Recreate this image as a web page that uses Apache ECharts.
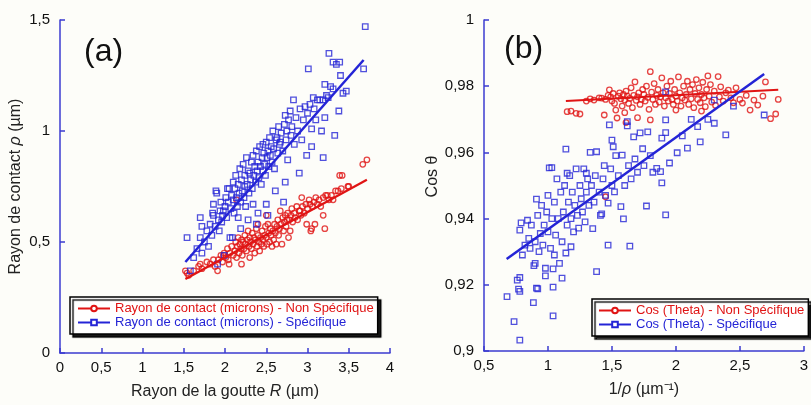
<!DOCTYPE html>
<html><head><meta charset="utf-8">
<script src="https://cdn.jsdelivr.net/npm/echarts@6/dist/echarts.min.js"></script>
<style>html,body{margin:0;padding:0;background:#fdfdf9}#c{width:811px;height:405px}</style>
</head><body><div id="c"></div>
<script>
// ---------- Panel (a) data ----------
const aXTicks = [0,0.5,1,1.5,2,2.5,3,3.5,4];
const aYTicks = [0,0.5,1,1.5];
const aRedName = 'Rayon de contact (microns) - Non Spécifique';
const aBlueName = 'Rayon de contact (microns) - Spécifique';
const aRedPts = [[1.52,0.37],[1.54,0.36],[1.56,0.35],[1.62,0.37],[1.68,0.39],[1.70,0.40],[1.72,0.38],[1.78,0.41],[1.82,0.40],[1.86,0.42],[1.88,0.39],[1.91,0.37],[1.92,0.42],[1.95,0.44],[1.97,0.41],[1.98,0.44],[1.99,0.45],[2.01,0.43],[2.03,0.47],[2.04,0.42],[2.05,0.40],[2.06,0.45],[2.08,0.48],[2.10,0.44],[2.12,0.46],[2.13,0.50],[2.14,0.43],[2.14,0.69],[2.15,0.48],[2.16,0.52],[2.17,0.45],[2.18,0.49],[2.19,0.47],[2.20,0.51],[2.20,0.40],[2.21,0.44],[2.22,0.50],[2.23,0.47],[2.24,0.53],[2.25,0.49],[2.26,0.46],[2.27,0.51],[2.28,0.55],[2.29,0.48],[2.30,0.52],[2.30,0.43],[2.31,0.50],[2.32,0.47],[2.33,0.54],[2.34,0.49],[2.35,0.52],[2.36,0.45],[2.37,0.51],[2.38,0.56],[2.39,0.48],[2.40,0.53],[2.40,0.58],[2.41,0.50],[2.42,0.46],[2.43,0.52],[2.44,0.49],[2.45,0.55],[2.46,0.51],[2.47,0.48],[2.48,0.53],[2.49,0.57],[2.50,0.52],[2.50,0.62],[2.51,0.49],[2.52,0.58],[2.53,0.54],[2.54,0.50],[2.55,0.56],[2.56,0.53],[2.57,0.48],[2.58,0.55],[2.59,0.51],[2.60,0.58],[2.61,0.54],[2.62,0.49],[2.63,0.57],[2.64,0.60],[2.65,0.53],[2.66,0.56],[2.67,0.64],[2.68,0.58],[2.69,0.49],[2.70,0.61],[2.71,0.55],[2.72,0.59],[2.73,0.62],[2.74,0.57],[2.75,0.60],[2.76,0.63],[2.77,0.52],[2.78,0.60],[2.79,0.55],[2.80,0.62],[2.81,0.65],[2.82,0.59],[2.84,0.63],[2.85,0.61],[2.87,0.66],[2.88,0.60],[2.90,0.64],[2.91,0.64],[2.92,0.62],[2.93,0.70],[2.94,0.66],[2.96,0.63],[2.98,0.67],[2.99,0.58],[3.00,0.65],[3.02,0.69],[3.03,0.67],[3.04,0.55],[3.05,0.56],[3.06,0.66],[3.08,0.68],[3.09,0.58],[3.10,0.70],[3.12,0.67],[3.14,0.69],[3.16,0.66],[3.19,0.62],[3.19,0.70],[3.21,0.56],[3.22,0.71],[3.24,0.71],[3.26,0.69],[3.29,0.71],[3.31,0.69],[3.34,0.73],[3.37,0.73],[3.39,0.80],[3.41,0.74],[3.42,0.80],[3.49,0.75],[3.50,0.75],[3.67,0.85],[3.72,0.87]];
const aBluePts = [[1.54,0.52],[1.58,0.37],[1.62,0.43],[1.66,0.47],[1.70,0.61],[1.70,0.52],[1.72,0.57],[1.72,0.45],[1.75,0.50],[1.78,0.55],[1.80,0.48],[1.82,0.58],[1.84,0.53],[1.85,0.63],[1.86,0.62],[1.86,0.67],[1.88,0.57],[1.89,0.73],[1.90,0.72],[1.91,0.40],[1.92,0.60],[1.93,0.55],[1.94,0.64],[1.95,0.68],[1.96,0.59],[1.97,0.62],[1.98,0.64],[1.99,0.44],[2.00,0.66],[2.01,0.70],[2.02,0.61],[2.03,0.74],[2.04,0.68],[2.05,0.74],[2.06,0.52],[2.07,0.65],[2.08,0.71],[2.09,0.52],[2.10,0.69],[2.10,0.77],[2.11,0.63],[2.12,0.74],[2.13,0.80],[2.14,0.70],[2.15,0.66],[2.16,0.61],[2.16,0.76],[2.17,0.72],[2.18,0.83],[2.19,0.56],[2.19,0.68],[2.20,0.78],[2.21,0.73],[2.22,0.85],[2.23,0.70],[2.24,0.75],[2.24,0.80],[2.25,0.66],[2.26,0.88],[2.27,0.76],[2.28,0.60],[2.28,0.82],[2.29,0.72],[2.30,0.81],[2.31,0.78],[2.32,0.86],[2.33,0.74],[2.34,0.89],[2.34,0.67],[2.35,0.80],[2.36,0.84],[2.37,0.77],[2.38,0.58],[2.38,0.91],[2.39,0.82],[2.40,0.63],[2.40,0.86],[2.41,0.79],[2.42,0.93],[2.43,0.84],[2.44,0.76],[2.45,0.88],[2.46,0.82],[2.46,0.94],[2.47,0.90],[2.48,0.85],[2.49,0.80],[2.50,0.67],[2.50,0.95],[2.51,0.88],[2.52,0.62],[2.52,0.91],[2.53,0.84],[2.54,0.97],[2.55,0.89],[2.56,0.93],[2.57,0.86],[2.58,1.00],[2.59,0.92],[2.60,0.83],[2.61,0.73],[2.62,0.96],[2.63,0.97],[2.64,0.90],[2.65,1.02],[2.66,0.94],[2.67,0.95],[2.68,0.99],[2.70,0.91],[2.71,0.68],[2.72,1.03],[2.73,0.77],[2.73,1.07],[2.74,0.96],[2.75,1.00],[2.76,0.87],[2.77,1.05],[2.79,1.09],[2.80,0.98],[2.81,1.02],[2.83,1.14],[2.84,0.94],[2.86,1.06],[2.88,1.00],[2.90,0.81],[2.91,1.10],[2.93,0.96],[2.95,1.05],[2.97,1.11],[2.99,0.89],[3.00,1.08],[3.01,1.28],[3.03,1.12],[3.05,1.01],[3.05,0.93],[3.07,1.15],[3.08,1.10],[3.10,1.05],[3.12,1.14],[3.15,1.14],[3.17,1.00],[3.19,1.14],[3.19,0.88],[3.21,1.06],[3.21,1.21],[3.23,1.16],[3.25,1.15],[3.26,1.35],[3.28,1.20],[3.31,1.31],[3.31,1.19],[3.33,0.98],[3.35,1.30],[3.38,1.09],[3.39,1.31],[3.40,1.25],[3.43,1.17],[3.47,1.18],[3.68,1.28],[3.70,1.47]];
const aRedFit = [[1.52,0.333],[3.72,0.78]];
const aBlueFit = [[1.52,0.41],[3.68,1.32]];

// ---------- Panel (b) data ----------
const bXTicks = [0.5,1,1.5,2,2.5,3];
const bYTicks = [0.9,0.92,0.94,0.96,0.98,1];
const bRedName = 'Cos (Theta) - Non Spécifique';
const bBlueName = 'Cos (Theta) - Spécifique';
const bRedPts = [[1.15,0.9723],[1.18,0.9725],[1.22,0.9718],[1.25,0.9716],[1.30,0.9755],[1.33,0.9762],[1.36,0.9758],[1.40,0.9765],[1.42,0.9764],[1.44,0.9713],[1.45,0.9760],[1.47,0.9772],[1.48,0.9789],[1.49,0.9768],[1.50,0.9755],[1.51,0.9778],[1.52,0.9748],[1.53,0.9728],[1.54,0.9704],[1.55,0.9770],[1.56,0.9780],[1.57,0.9762],[1.58,0.9740],[1.59,0.9775],[1.60,0.9758],[1.60,0.9720],[1.61,0.9785],[1.61,0.9690],[1.62,0.9770],[1.63,0.9748],[1.64,0.9763],[1.65,0.9795],[1.66,0.9735],[1.67,0.9772],[1.68,0.9813],[1.69,0.9757],[1.70,0.9768],[1.70,0.9705],[1.71,0.9780],[1.72,0.9745],[1.73,0.9760],[1.74,0.9790],[1.75,0.9775],[1.76,0.9755],[1.77,0.9800],[1.78,0.9766],[1.79,0.9730],[1.80,0.9844],[1.80,0.9698],[1.81,0.9782],[1.82,0.9760],[1.83,0.9808],[1.84,0.9745],[1.85,0.9772],[1.86,0.9790],[1.87,0.9752],[1.88,0.9768],[1.89,0.9825],[1.90,0.9780],[1.91,0.9740],[1.92,0.9765],[1.93,0.9800],[1.94,0.9755],[1.95,0.9778],[1.96,0.9815],[1.97,0.9760],[1.98,0.9745],[1.99,0.9790],[2.00,0.9770],[2.00,0.9728],[2.01,0.9755],[2.02,0.9828],[2.03,0.9780],[2.04,0.9740],[2.05,0.9765],[2.06,0.9800],[2.07,0.9758],[2.08,0.9775],[2.09,0.9815],[2.10,0.9745],[2.11,0.9790],[2.12,0.9762],[2.13,0.9805],[2.14,0.9735],[2.15,0.9778],[2.16,0.9820],[2.17,0.9760],[2.18,0.9795],[2.19,0.9750],[2.20,0.9775],[2.20,0.9725],[2.21,0.9812],[2.22,0.9765],[2.23,0.9738],[2.24,0.9790],[2.25,0.9831],[2.26,0.9770],[2.27,0.9805],[2.28,0.9752],[2.30,0.9785],[2.31,0.9742],[2.33,0.9829],[2.34,0.9768],[2.35,0.9798],[2.37,0.9755],[2.39,0.9780],[2.41,0.9788],[2.43,0.9765],[2.45,0.9750],[2.47,0.9795],[2.50,0.9760],[2.52,0.9749],[2.55,0.9772],[2.58,0.9728],[2.61,0.9758],[2.64,0.9743],[2.68,0.9770],[2.70,0.9813],[2.74,0.9702],[2.78,0.9716],[2.80,0.9760],[1.45,0.9466]];
const bBluePts = [[0.68,0.9164],[0.735,0.9089],[0.78,0.9033],[0.76,0.9214],[0.77,0.9187],[0.78,0.9180],[0.78,0.9222],[0.78,0.9365],[0.80,0.9290],[0.79,0.9387],[0.82,0.9320],[0.84,0.9395],[0.85,0.9340],[0.86,0.9310],[0.87,0.9380],[0.886,0.9146],[0.89,0.9258],[0.90,0.9265],[0.90,0.9330],[0.91,0.9190],[0.91,0.9459],[0.92,0.9188],[0.92,0.9410],[0.93,0.9300],[0.94,0.9355],[0.95,0.9440],[0.96,0.9320],[0.97,0.9380],[0.98,0.9227],[0.98,0.9250],[0.99,0.9420],[1.00,0.9360],[1.00,0.9470],[1.01,0.9553],[1.02,0.9310],[1.03,0.9400],[1.03,0.9554],[1.04,0.9248],[1.04,0.9193],[1.04,0.9106],[1.05,0.9290],[1.05,0.9450],[1.06,0.9350],[1.07,0.9520],[1.08,0.9400],[1.09,0.9265],[1.10,0.9480],[1.11,0.9220],[1.11,0.9330],[1.12,0.9420],[1.13,0.9500],[1.14,0.9610],[1.14,0.9296],[1.15,0.9380],[1.15,0.9537],[1.16,0.9450],[1.17,0.9530],[1.18,0.9315],[1.18,0.9400],[1.19,0.9480],[1.20,0.9360],[1.21,0.9440],[1.22,0.9550],[1.23,0.9410],[1.24,0.9371],[1.25,0.9500],[1.26,0.9460],[1.27,0.9420],[1.28,0.9550],[1.29,0.9390],[1.30,0.9480],[1.30,0.9537],[1.31,0.9520],[1.32,0.9440],[1.33,0.9600],[1.34,0.9500],[1.35,0.9370],[1.36,0.9450],[1.37,0.9530],[1.38,0.9240],[1.38,0.9602],[1.40,0.9480],[1.41,0.9410],[1.42,0.9414],[1.43,0.9520],[1.44,0.9560],[1.45,0.9470],[1.47,0.9320],[1.47,0.9447],[1.48,0.9683],[1.49,0.9550],[1.50,0.9500],[1.50,0.9637],[1.51,0.9617],[1.52,0.9481],[1.53,0.9590],[1.55,0.9530],[1.57,0.9436],[1.58,0.9592],[1.59,0.9399],[1.60,0.9500],[1.62,0.9693],[1.62,0.9680],[1.63,0.9560],[1.64,0.9317],[1.65,0.9520],[1.67,0.9647],[1.68,0.9580],[1.70,0.9540],[1.72,0.9659],[1.74,0.9611],[1.75,0.9560],[1.77,0.9438],[1.78,0.9662],[1.80,0.9590],[1.82,0.9540],[1.85,0.9552],[1.88,0.9542],[1.89,0.9643],[1.89,0.9508],[1.92,0.9698],[1.92,0.9783],[1.92,0.9660],[1.92,0.9411],[1.95,0.9568],[2.01,0.9599],[2.05,0.9650],[2.09,0.9613],[2.12,0.9700],[2.17,0.9678],[2.19,0.9632],[2.25,0.9700],[2.30,0.9688],[2.30,0.9758],[2.39,0.9653],[2.45,0.9740],[2.69,0.9713]];
const bRedFit = [[1.14,0.9755],[2.80,0.9789]];
const bBlueFit = [[0.677,0.9278],[2.69,0.9837]];

const RED = '#e01414';
const BLUE = '#2424d6';
const AXIS = '#3b3bd0';
const FONT = 'Liberation Sans';

function fmt(v){ return String(Math.round(v*1000)/1000).replace('.', ','); }

function axisCommon(){
  return {
    axisLine:{show:true, lineStyle:{color:AXIS, width:1.5}},
    axisTick:{show:true, inside:true, length:5, lineStyle:{color:AXIS, width:1.5}},
    splitLine:{show:false},
    axisLabel:{color:'#111', fontSize:15, fontFamily:FONT, formatter:fmt},
    nameTextStyle:{color:'#222', fontSize:15, fontFamily:FONT}
  };
}
const nameStyle = {color:'#222', fontSize:16, fontFamily:FONT, rich:{i:{fontStyle:'italic', fontSize:16, fontFamily:FONT, color:'#222'}}};

const chart = echarts.init(document.getElementById('c'));
const scatterStyle = (color)=>({color:'rgba(0,0,0,0)', borderColor:color, borderWidth:1.3});

chart.setOption({
  backgroundColor:'#fdfdf9',
  animation:false,
  grid:[
    {left:60, top:20, width:330, bottom:52},
    {left:484, top:20, right:-2, bottom:54}
  ],
  xAxis:[
    Object.assign(axisCommon(), {gridIndex:0, type:'value', min:aXTicks[0], max:aXTicks[aXTicks.length-1], interval:0.5,
      name:'Rayon de la goutte {i|R} (µm)', nameLocation:'middle', nameGap:31, nameTextStyle:nameStyle,
      axisLabel:{color:'#111', fontSize:15, fontFamily:FONT, margin:7, formatter:fmt}}),
    Object.assign(axisCommon(), {gridIndex:1, type:'value', min:bXTicks[0], max:bXTicks[bXTicks.length-1], interval:0.5,
      name:'1/{i|ρ} (µm⁻¹)', nameLocation:'middle', nameGap:31, nameTextStyle:nameStyle,
      axisLabel:{color:'#111', fontSize:15, fontFamily:FONT, margin:7, formatter:fmt}})
  ],
  yAxis:[
    Object.assign(axisCommon(), {gridIndex:0, type:'value', min:aYTicks[0], max:aYTicks[aYTicks.length-1], interval:0.5,
      name:'Rayon de contact {i|ρ} (µm)', nameLocation:'middle', nameGap:36, nameTextStyle:nameStyle,
      axisLabel:{color:'#111', fontSize:15, fontFamily:FONT, margin:10, formatter:fmt}}),
    Object.assign(axisCommon(), {gridIndex:1, type:'value', min:bYTicks[0], max:bYTicks[bYTicks.length-1], interval:0.02,
      name:'Cos θ', nameLocation:'middle', nameGap:36,
      nameTextStyle:{color:'#222', fontSize:16, fontFamily:FONT, padding:[0,0,0,18]},
      axisLabel:{color:'#111', fontSize:15, fontFamily:FONT, margin:10, formatter:fmt}})
  ],
  legend:[
    {left:70, top:297, orient:'vertical', selectedMode:false, itemWidth:32, itemHeight:7, itemGap:1,
     padding:[5,4,5,7], backgroundColor:'#fff', borderColor:'#000', borderWidth:1.5,
     shadowColor:'rgba(0,0,0,0.9)', shadowOffsetX:3, shadowOffsetY:3, shadowBlur:1,
     textStyle:{fontSize:13, fontFamily:FONT},
     data:[{name:aRedName, textStyle:{color:RED}},{name:aBlueName, textStyle:{color:BLUE}}]},
    {left:592, top:299, orient:'vertical', selectedMode:false, itemWidth:32, itemHeight:7, itemGap:1,
     padding:[5,4,5,6], backgroundColor:'#fff', borderColor:'#000', borderWidth:1.5,
     shadowColor:'rgba(0,0,0,0.9)', shadowOffsetX:3, shadowOffsetY:3, shadowBlur:1,
     textStyle:{fontSize:13, fontFamily:FONT},
     data:[{name:bRedName, textStyle:{color:RED}},{name:bBlueName, textStyle:{color:BLUE}}]}
  ],
  graphic:[
    {type:'text', left:84, top:36, style:{text:'(a)', fontSize:32, fontFamily:FONT, fill:'#111'}},
    {type:'text', left:504, top:33, style:{text:'(b)', fontSize:32, fontFamily:FONT, fill:'#111'}}
  ],
  series:[
    {name:'a-red-pts', type:'scatter', xAxisIndex:0, yAxisIndex:0, data:aRedPts, symbol:'circle', symbolSize:5.5, itemStyle:scatterStyle(RED)},
    {name:'a-blue-pts', type:'scatter', xAxisIndex:0, yAxisIndex:0, data:aBluePts, symbol:'rect', symbolSize:5.5, itemStyle:scatterStyle(BLUE)},
    {name:aRedName, type:'line', xAxisIndex:0, yAxisIndex:0, data:aRedFit, symbol:'emptyCircle', showSymbol:false, lineStyle:{color:RED, width:2.2}, itemStyle:{color:RED}},
    {name:aBlueName, type:'line', xAxisIndex:0, yAxisIndex:0, data:aBlueFit, symbol:'emptyRect', showSymbol:false, lineStyle:{color:BLUE, width:2.5}, itemStyle:{color:BLUE}},
    {name:'b-red-pts', type:'scatter', xAxisIndex:1, yAxisIndex:1, data:bRedPts, symbol:'circle', symbolSize:5.5, itemStyle:scatterStyle(RED)},
    {name:'b-blue-pts', type:'scatter', xAxisIndex:1, yAxisIndex:1, data:bBluePts, symbol:'rect', symbolSize:5.5, itemStyle:scatterStyle(BLUE)},
    {name:bRedName, type:'line', xAxisIndex:1, yAxisIndex:1, data:bRedFit, symbol:'emptyCircle', showSymbol:false, lineStyle:{color:RED, width:2}, itemStyle:{color:RED}},
    {name:bBlueName, type:'line', xAxisIndex:1, yAxisIndex:1, data:bBlueFit, symbol:'emptyRect', showSymbol:false, lineStyle:{color:BLUE, width:2.5}, itemStyle:{color:BLUE}}
  ]
});
</script>
</body></html>
